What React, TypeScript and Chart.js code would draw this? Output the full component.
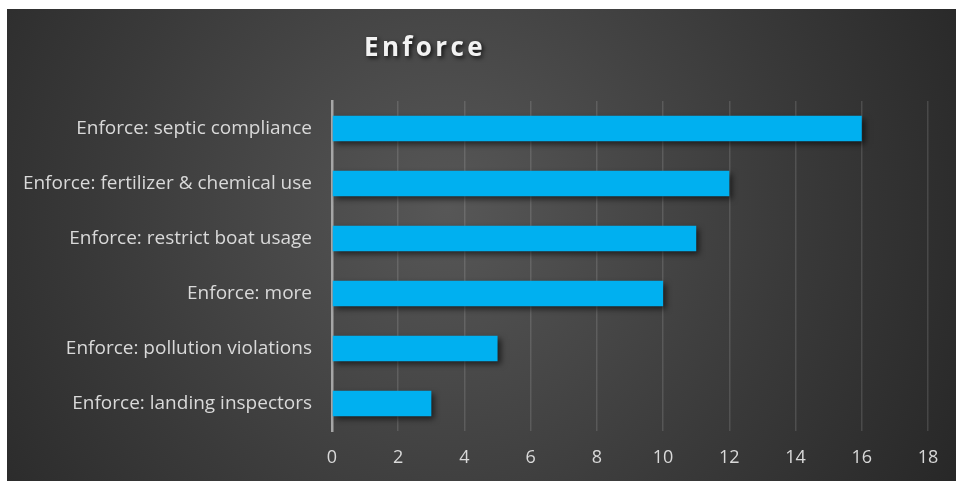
import React, { useEffect, useRef } from "react";
import { Chart, registerables } from "chart.js";

Chart.register(...registerables);

const categories = [
  "Enforce: septic compliance",
  "Enforce: fertilizer & chemical use",
  "Enforce: restrict boat usage",
  "Enforce: more",
  "Enforce: pollution violations",
  "Enforce: landing inspectors",
];
const values = [16, 12, 11, 10, 5, 3];
const titleText = "Enforce";
const xMax = 18;
const xStep = 2;

const FONT = "'Open Sans', Lato, sans-serif";

const bgPlugin = {
  id: "bgPlugin",
  beforeDraw(chart: any) {
    const { ctx, width, height } = chart;
    ctx.save();
    const g = ctx.createRadialGradient(440, 200, 0, 440, 200, 620);
    g.addColorStop(0, "#575757");
    g.addColorStop(0.55, "#3a3a3a");
    g.addColorStop(1, "#242424");
    ctx.fillStyle = g;
    ctx.fillRect(0, 0, width, height);
    ctx.restore();
  },
  beforeDatasetsDraw(chart: any) {
    const ctx = chart.ctx;
    ctx.save();
    ctx.shadowColor = "rgba(0,0,0,0.6)";
    ctx.shadowBlur = 6;
    ctx.shadowOffsetX = 3;
    ctx.shadowOffsetY = 3;
  },
  afterDatasetsDraw(chart: any) {
    chart.ctx.restore();
  },
  afterDraw(chart: any) {
    const ctx = chart.ctx;
    ctx.save();
    ctx.font = `bold 26px ${FONT}`;
    (ctx as any).letterSpacing = "3.4px";
    ctx.textAlign = "center";
    ctx.textBaseline = "middle";
    ctx.shadowColor = "rgba(0,0,0,0.75)";
    ctx.shadowBlur = 4;
    ctx.shadowOffsetX = 2;
    ctx.shadowOffsetY = 2;
    ctx.fillStyle = "#f2f2f2";
    ctx.fillText(titleText, 418, 40);
    ctx.restore();
  },
};

export default function App() {
  const ref = useRef<HTMLCanvasElement>(null);
  useEffect(() => {
    if (!ref.current) return;
    const chart = new Chart(ref.current, {
      type: "bar",
      data: {
        labels: categories,
        datasets: [
          {
            data: values,
            backgroundColor: "#00B0F0",
            borderWidth: 0,
            categoryPercentage: 1,
            barPercentage: 0.46,
          },
        ],
      },
      options: {
        indexAxis: "y",
        animation: false,
        responsive: false,
        maintainAspectRatio: false,
        layout: { padding: { left: 0, top: 92, right: 28, bottom: 0 } },
        plugins: {
          legend: { display: false },
          title: { display: false },
          tooltip: { enabled: false },
        },
        scales: {
          x: {
            min: 0,
            max: xMax,
            ticks: {
              stepSize: xStep,
              color: "#d9d9d9",
              font: { family: FONT, size: 18 },
              padding: 16,
            },
            grid: {
              color: "rgba(255,255,255,0.13)",
              lineWidth: 1.5,
              drawTicks: false,
            },
            border: { display: false },
            afterFit(scale: any) {
              scale.height = 50;
            },
          },
          y: {
            ticks: {
              color: "#d9d9d9",
              font: { family: FONT, size: 19 },
              padding: 20,
            },
            grid: { display: false, drawTicks: false },
            border: { display: true, color: "#a6a6a6", width: 2.5 },
            afterFit(scale: any) {
              scale.width = 325;
            },
          },
        },
      },
      plugins: [bgPlugin],
    });
    return () => chart.destroy();
  }, []);
  return (
    <div style={{ position: "fixed", left: 7, top: 9, width: 949, height: 472 }}>
      <canvas ref={ref} width={949} height={472} />
    </div>
  );
}
